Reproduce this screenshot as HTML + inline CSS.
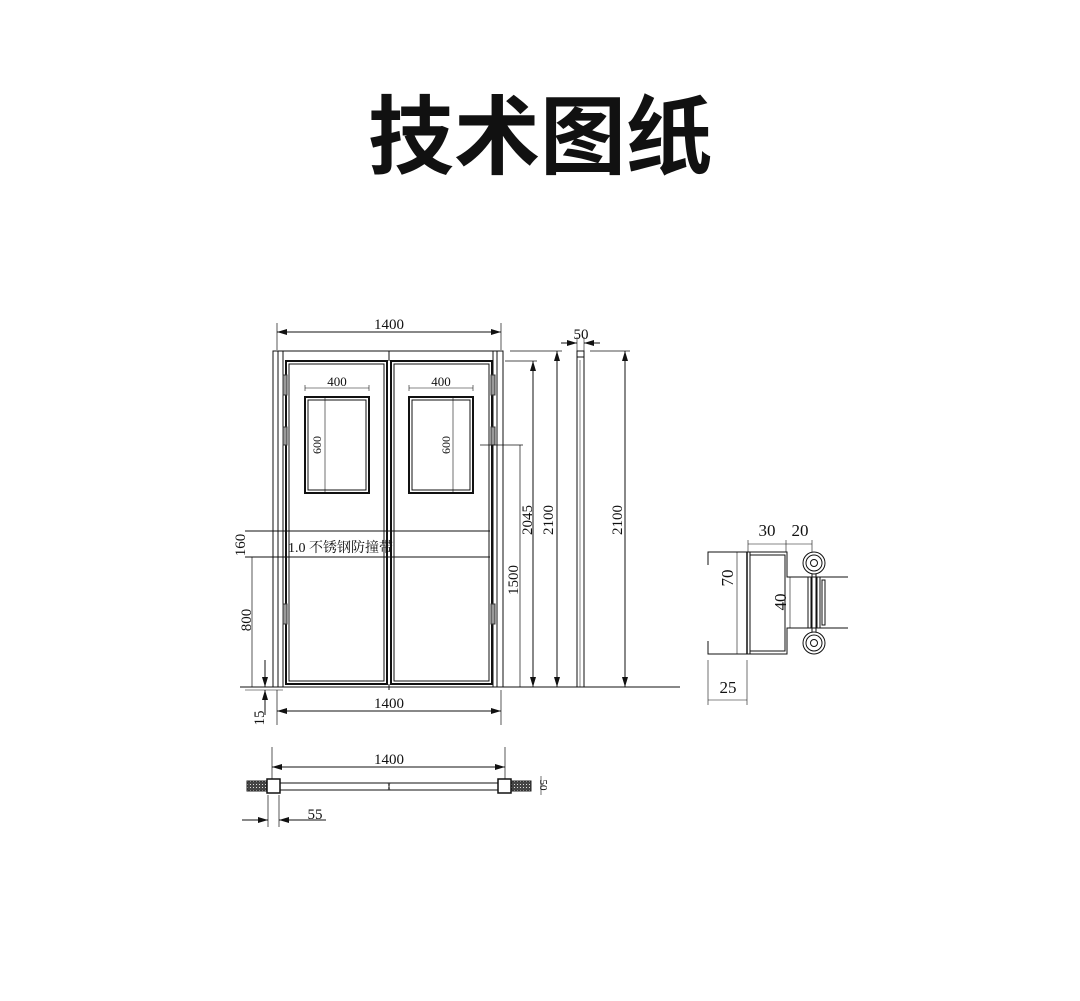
<!DOCTYPE html>
<html><head><meta charset="utf-8"><style>
html,body{margin:0;padding:0;background:#fff;}
svg{display:block;}
text{font-family:"Liberation Serif","Noto Serif CJK SC",serif;fill:#111;}
</style></head><body>
<svg width="1080" height="1001" viewBox="0 0 1080 1001" xmlns="http://www.w3.org/2000/svg">
<defs>
<marker id="a" viewBox="0 0 10 6" refX="10" refY="3" markerWidth="10" markerHeight="6" orient="auto-start-reverse" markerUnits="userSpaceOnUse"><path d="M0,0 L10,3 L0,6 z" fill="#111"/></marker>
<pattern id="h" width="3" height="3" patternUnits="userSpaceOnUse"><rect width="3" height="3" fill="#444"/><rect x="1" y="1" width="1" height="1" fill="#ddd"/></pattern>
</defs>
<text x="540" y="167" text-anchor="middle" style="font-family:'Noto Sans CJK SC',sans-serif;font-weight:700;font-size:86px">技术图纸</text>

<g stroke="#111" fill="none" stroke-width="1">
<line x1="240" y1="687" x2="680" y2="687"/>
<rect x="273" y="351" width="230" height="336"/>
<line x1="278" y1="351" x2="278" y2="687"/><line x1="283" y1="351" x2="283" y2="687"/>
<line x1="493" y1="351" x2="493" y2="687"/><line x1="497" y1="351" x2="497" y2="687"/>
<line x1="389" y1="351" x2="389" y2="361"/><line x1="389" y1="684" x2="389" y2="690"/>
<rect x="286" y="361" width="101" height="323" stroke-width="2"/>
<rect x="289" y="364" width="95" height="317"/>
<rect x="391" y="361" width="101" height="323" stroke-width="2"/>
<rect x="394" y="364" width="95" height="317"/>
<rect x="305" y="397" width="64" height="96" stroke-width="2"/>
<rect x="308" y="400" width="58" height="90"/>
<rect x="409" y="397" width="64" height="96" stroke-width="2"/>
<rect x="412" y="400" width="58" height="90"/>
<line x1="325" y1="397" x2="325" y2="493" stroke-width="0.6"/>
<line x1="453" y1="397" x2="453" y2="493" stroke-width="0.6"/>
<line x1="245" y1="531" x2="490" y2="531"/>
<line x1="245" y1="557" x2="490" y2="557"/>
<g fill="#999" stroke="#333"><rect x="283" y="375" width="4" height="20"/><rect x="283" y="427" width="4" height="18"/><rect x="283" y="604" width="4" height="20"/>
<rect x="491" y="375" width="4" height="20"/><rect x="491" y="427" width="4" height="18"/><rect x="491" y="604" width="4" height="20"/></g>
<line x1="277" y1="323" x2="277" y2="350" stroke-width="0.7"/><line x1="501" y1="323" x2="501" y2="350" stroke-width="0.7"/>
<line x1="277" y1="332" x2="501" y2="332" marker-start="url(#a)" marker-end="url(#a)"/>
<line x1="277" y1="690" x2="277" y2="725" stroke-width="0.7"/><line x1="501" y1="690" x2="501" y2="725" stroke-width="0.7"/>
<line x1="277" y1="711" x2="501" y2="711" marker-start="url(#a)" marker-end="url(#a)"/>
<line x1="305" y1="388" x2="369" y2="388" stroke-width="0.6"/><line x1="305" y1="385" x2="305" y2="391" stroke-width="0.6"/><line x1="369" y1="385" x2="369" y2="391" stroke-width="0.6"/>
<line x1="409" y1="388" x2="473" y2="388" stroke-width="0.6"/><line x1="409" y1="385" x2="409" y2="391" stroke-width="0.6"/><line x1="473" y1="385" x2="473" y2="391" stroke-width="0.6"/>
<line x1="252" y1="557" x2="252" y2="687" stroke-width="0.7"/>
<line x1="265" y1="660" x2="265" y2="687" marker-end="url(#a)"/>
<line x1="265" y1="715" x2="265" y2="690" marker-end="url(#a)"/>
<line x1="245" y1="690" x2="283" y2="690" stroke-width="0.6"/>
<line x1="480" y1="445" x2="523" y2="445" stroke-width="0.7"/>
<line x1="520" y1="445" x2="520" y2="687" stroke-width="0.7"/>
<line x1="505" y1="361" x2="537" y2="361" stroke-width="0.7"/>
<line x1="533" y1="361" x2="533" y2="687" marker-start="url(#a)" marker-end="url(#a)"/>
<line x1="510" y1="351" x2="562" y2="351" stroke-width="0.7"/>
<line x1="557" y1="351" x2="557" y2="687" marker-start="url(#a)" marker-end="url(#a)"/>
<rect x="577" y="357" width="7" height="330"/>
<rect x="577" y="351" width="7" height="6"/>
<line x1="580" y1="360" x2="580" y2="687" stroke-width="0.5"/>
<line x1="561" y1="343" x2="577" y2="343" marker-end="url(#a)"/><line x1="600" y1="343" x2="584" y2="343" marker-end="url(#a)"/>
<line x1="577" y1="337" x2="577" y2="351" stroke-width="0.6"/><line x1="584" y1="337" x2="584" y2="351" stroke-width="0.6"/>
<line x1="590" y1="351" x2="630" y2="351" stroke-width="0.7"/>
<line x1="625" y1="351" x2="625" y2="687" marker-start="url(#a)" marker-end="url(#a)"/>
<!-- section -->
<path d="M708,565 V552 H787 V577 H808 M708,641 V654 H787 V628 H808"/>
<line x1="737" y1="552" x2="737" y2="654" stroke-width="0.6"/>
<line x1="747" y1="552" x2="747" y2="654" stroke-width="1.5"/>
<line x1="750" y1="552" x2="750" y2="654"/>
<rect x="750" y="555" width="35" height="96"/>
<line x1="808" y1="577" x2="848" y2="577"/><line x1="808" y1="628" x2="848" y2="628"/>
<rect x="808" y="577" width="3" height="51"/><rect x="817" y="577" width="3" height="51"/><rect x="822" y="580" width="3" height="45"/>
<line x1="812" y1="563" x2="812" y2="643"/><line x1="816" y1="563" x2="816" y2="643"/>
<circle cx="814" cy="563" r="11" fill="#fff"/><circle cx="814" cy="563" r="8"/><circle cx="814" cy="563" r="3.5"/>
<circle cx="814" cy="643" r="11" fill="#fff"/><circle cx="814" cy="643" r="8"/><circle cx="814" cy="643" r="3.5"/>
<line x1="748" y1="544" x2="812" y2="544" stroke-width="0.6"/>
<line x1="748" y1="540" x2="748" y2="552" stroke-width="0.6"/><line x1="786" y1="540" x2="786" y2="552" stroke-width="0.6"/><line x1="812" y1="540" x2="812" y2="552" stroke-width="0.6"/>
<line x1="790" y1="577" x2="790" y2="628" stroke-width="0.6"/>
<line x1="708" y1="660" x2="708" y2="705" stroke-width="0.6"/><line x1="747" y1="660" x2="747" y2="705" stroke-width="0.6"/>
<line x1="708" y1="700" x2="747" y2="700" stroke-width="0.6"/>
<!-- plan -->
<line x1="272" y1="747" x2="272" y2="790" stroke-width="0.7"/><line x1="505" y1="747" x2="505" y2="790" stroke-width="0.7"/>
<line x1="272" y1="767" x2="505" y2="767" marker-start="url(#a)" marker-end="url(#a)"/>
<rect x="280" y="783" width="218" height="7"/>
<rect x="247" y="781" width="20" height="10" fill="url(#h)" stroke="#222"/>
<rect x="511" y="781" width="20" height="10" fill="url(#h)" stroke="#222"/>
<rect x="267" y="779" width="13" height="14" fill="#fff" stroke-width="1.5"/>
<rect x="498" y="779" width="13" height="14" fill="#fff" stroke-width="1.5"/>
<line x1="388" y1="783" x2="390" y2="790" stroke-width="0.6"/><line x1="390" y1="783" x2="388" y2="790" stroke-width="0.6"/>
<line x1="268" y1="795" x2="268" y2="827" stroke-width="0.7"/><line x1="279" y1="795" x2="279" y2="827" stroke-width="0.7"/>
<line x1="242" y1="820" x2="268" y2="820" marker-end="url(#a)"/><line x1="326" y1="820" x2="279" y2="820" marker-end="url(#a)"/>
<line x1="541" y1="776" x2="541" y2="795" stroke-width="0.6"/>
</g>

<g font-size="15">
<text x="389" y="329" text-anchor="middle">1400</text>
<text x="389" y="708" text-anchor="middle">1400</text>
<text x="389" y="764" text-anchor="middle">1400</text>
<text x="337" y="386" text-anchor="middle" font-size="13">400</text>
<text x="441" y="386" text-anchor="middle" font-size="13">400</text>
<text transform="translate(321,445) rotate(-90)" text-anchor="middle" font-size="12">600</text>
<text transform="translate(450,445) rotate(-90)" text-anchor="middle" font-size="12">600</text>
<text x="288" y="552" font-size="14">1.0 不锈钢防撞带</text>
<text transform="translate(245,545) rotate(-90)" text-anchor="middle">160</text>
<text transform="translate(251,620) rotate(-90)" text-anchor="middle">800</text>
<text transform="translate(264,718) rotate(-90)" text-anchor="middle">15</text>
<text transform="translate(518,580) rotate(-90)" text-anchor="middle">1500</text>
<text transform="translate(532,520) rotate(-90)" text-anchor="middle">2045</text>
<text transform="translate(553,520) rotate(-90)" text-anchor="middle">2100</text>
<text transform="translate(622,520) rotate(-90)" text-anchor="middle">2100</text>
<text x="581" y="339" text-anchor="middle">50</text>
<text x="315" y="819" text-anchor="middle">55</text>
<text transform="translate(540,785) rotate(90)" text-anchor="middle" font-size="11">50</text>
<text x="767" y="536" text-anchor="middle" font-size="17">30</text>
<text x="800" y="536" text-anchor="middle" font-size="17">20</text>
<text transform="translate(733,578) rotate(-90)" text-anchor="middle" font-size="17">70</text>
<text transform="translate(786,602) rotate(-90)" text-anchor="middle" font-size="17">40</text>
<text x="728" y="693" text-anchor="middle" font-size="17">25</text>
</g>
</svg>
</body></html>
